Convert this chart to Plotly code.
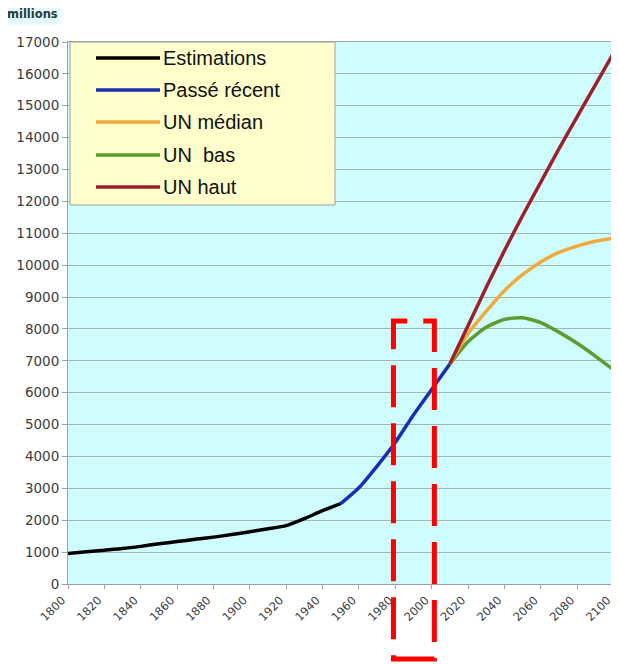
import plotly.graph_objects as go

# ---- data ----
years_est = [1800, 1810, 1820, 1830, 1840, 1850, 1860, 1870, 1880, 1890,
             1900, 1910, 1920, 1930, 1940, 1950]
pop_est = [960, 1010, 1060, 1110, 1180, 1260, 1330, 1400, 1470, 1550,
           1640, 1730, 1830, 2050, 2300, 2520]

years_recent = [1950, 1960, 1970, 1980, 1990, 2000, 2010]
pop_recent = [2520, 3020, 3700, 4440, 5300, 6100, 6900]

years_proj = [2010, 2020, 2030, 2040, 2050, 2060, 2070, 2080, 2090, 2100]
pop_median = [6900, 7850, 8550, 9200, 9700, 10100, 10400, 10600, 10750, 10850]
pop_low = [6900, 7600, 8050, 8300, 8350, 8200, 7900, 7550, 7150, 6720]
pop_high = [6900, 8100, 9300, 10450, 11550, 12600, 13650, 14650, 15650, 16650]

series_names = ["Estimations", "Passé récent", "UN médian", "UN  bas", "UN haut"]
series_colors = ["#000000", "#1b2db5", "#f2a93b", "#5c9c2e", "#9e1f2c"]

x_ticks = list(range(1800, 2101, 20))
y_ticks = list(range(0, 17001, 1000))

FONT = "Liberation Sans, Arial, sans-serif"
TICKFONT = "DejaVu Sans, Verdana, sans-serif"

fig = go.Figure()
series = [
    (years_est, pop_est),
    (years_recent, pop_recent),
    (years_proj, pop_median),
    (years_proj, pop_low),
    (years_proj, pop_high),
]
order = [0, 1, 3, 2, 4]
for i in order:
    xs, ys = series[i]
    fig.add_trace(go.Scatter(
        x=xs, y=ys, mode="lines", name=series_names[i],
        line=dict(color=series_colors[i], width=3.5, shape="spline", smoothing=0.6),
        showlegend=False, hoverinfo="skip", cliponaxis=False,
    ))

# page has an 8px body margin; positions below are measured in window pixels
OFF = 8
W, H = 619 - OFF, 664 - OFF
ml, mr, mt, mb = 68 - OFF, 5, 42 - OFF, 80
pw, ph = W - ml - mr, H - mt - mb


def px_x(p):
    return (p - OFF - ml) / pw


def px_y(p):
    return (H - mb - (p - OFF)) / ph


shapes = []
annotations = []

# manual legend box
shapes.append(dict(type="rect", xref="paper", yref="paper",
                   x0=px_x(70), x1=px_x(335), y0=px_y(205), y1=px_y(42),
                   fillcolor="#ffffcc", line=dict(color="#a0a0a0", width=1),
                   layer="above"))
row_y = [58, 90, 122, 155, 187]
for name, col, ry in zip(series_names, series_colors, row_y):
    shapes.append(dict(type="line", xref="paper", yref="paper",
                       x0=px_x(96), x1=px_x(160), y0=px_y(ry), y1=px_y(ry),
                       line=dict(color=col, width=3.5), layer="above"))
    annotations.append(dict(text=name.replace("  ", "&nbsp; "), xref="paper", yref="paper",
                            x=px_x(161), y=px_y(ry), xanchor="left", yanchor="middle",
                            showarrow=False, font=dict(family=FONT, size=20, color="#111111")))

# red dashed highlight rectangle
shapes.append(dict(type="rect", xref="x", yref="paper",
                   x0=1979, x1=2001.5, y0=px_y(659), y1=px_y(321),
                   line=dict(color="#ff0000", width=5, dash="42px,16px"),
                   fillcolor="rgba(0,0,0,0)", layer="above"))

# "millions" unit label
annotations.append(dict(text="<b>millions</b>", xref="paper", yref="paper",
                        x=px_x(3), y=px_y(14), xanchor="left", yanchor="middle",
                        showarrow=False, bgcolor="#e2fbfb", borderpad=3,
                        font=dict(family=TICKFONT, size=11.5, color="#2a3a3a")))

fig.update_layout(
    width=W, height=H,
    margin=dict(l=ml, r=mr, t=mt, b=mb, pad=0, autoexpand=False),
    paper_bgcolor="#ffffff",
    plot_bgcolor="#cffcfc",
    font=dict(family=FONT, size=11, color="#333333"),
    shapes=shapes,
    annotations=annotations,
    showlegend=False,
)
fig.update_xaxes(
    range=[1800, 2100.3], tickvals=x_ticks, ticktext=[str(v) for v in x_ticks],
    tickangle=-45, showgrid=False, zeroline=False, automargin=False,
    ticklabeloverflow="allow", ticklabelshift=-6,
    showline=True, linecolor="#a0a0a0", linewidth=1, mirror=True,
    ticks="outside", ticklen=4, tickcolor="#a0a0a0",
    tickfont=dict(family=TICKFONT, size=11.5, color="#3c3c3c"),
)
fig.update_yaxes(
    range=[0, 17000], tickvals=y_ticks, ticktext=[str(v) for v in y_ticks],
    showgrid=True, gridcolor="#a8b4b4", gridwidth=1, zeroline=False, automargin=False,
    showline=True, linecolor="#a0a0a0", linewidth=1, mirror=True,
    ticks="outside", ticklen=5, tickcolor="#a0a0a0",
    tickfont=dict(family=TICKFONT, size=13.5, color="#3c3c3c"),
)

fig.write_html("out.html")
